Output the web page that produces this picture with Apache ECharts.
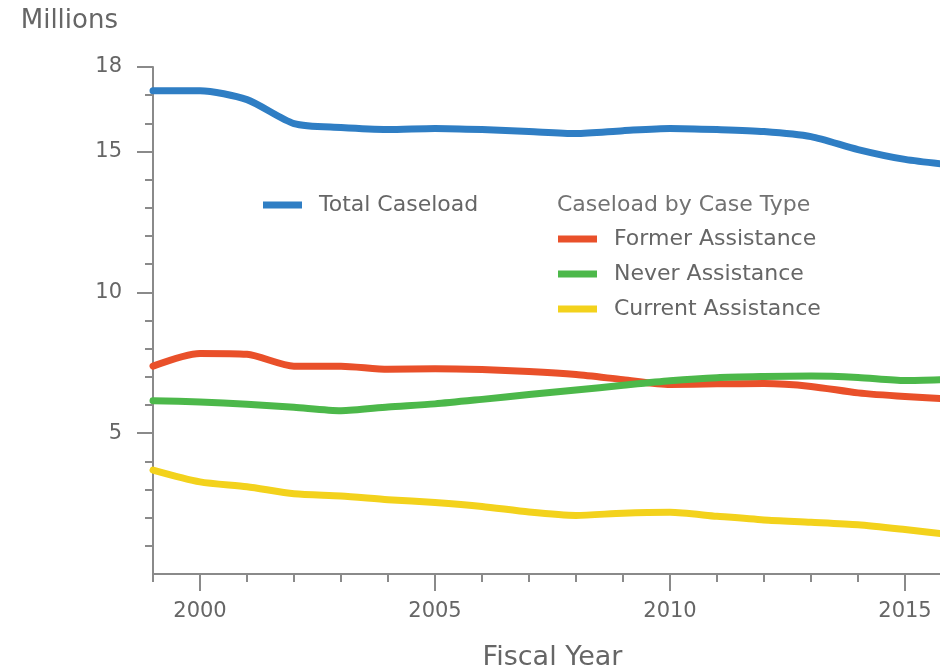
<!DOCTYPE html>
<html>
<head>
<meta charset="utf-8">
<script src="https://cdn.jsdelivr.net/npm/echarts@6/dist/echarts.min.js"></script>
<style>html,body{margin:0;padding:0;background:#fff}#chart{width:940px;height:672px}</style>
</head>
<body>
<div id="chart"></div>
<script>
const years = ['1999','2000','2001','2002','2003','2004','2005','2006','2007','2008','2009','2010','2011','2012','2013','2014','2015','2016'];
const totalCaseload      = [17.16,17.16,16.84,15.99,15.85,15.78,15.82,15.78,15.71,15.64,15.74,15.82,15.78,15.71,15.53,15.07,14.72,14.52];
const formerAssistance   = [7.38,7.83,7.80,7.38,7.38,7.27,7.29,7.26,7.19,7.08,6.90,6.73,6.75,6.76,6.66,6.43,6.30,6.21];
const neverAssistance    = [6.15,6.11,6.03,5.92,5.80,5.93,6.04,6.20,6.37,6.53,6.70,6.86,6.97,7.01,7.03,6.98,6.87,6.91];
const currentAssistance  = [3.69,3.27,3.10,2.85,2.77,2.64,2.54,2.40,2.20,2.08,2.16,2.19,2.05,1.92,1.84,1.75,1.58,1.39];
const yLabelValues = [5,10,15,18];
const xLabelYears = ['2000','2005','2010','2015'];
const yCats = Array.from({length:19},(_, i)=>String(i));

const FONT = 'DejaVu Sans';
const GREY = '#666666';
const AXIS = '#8a8a8a';

const chart = echarts.init(document.getElementById('chart'));
const lineS = (name, data, color) => ({
  name, type:'line', data, smooth:0.25, symbol:'none',
  xAxisIndex:0, yAxisIndex:0,
  lineStyle:{color, width:7, cap:'round', join:'round'}, itemStyle:{color}
});
chart.setOption({
  animation:false,
  textStyle:{fontFamily:FONT},
  grid:{left:153, top:67, width:799, height:507, containLabel:false, outerBoundsMode:'none'},
  title:{text:'Caseload by Case Type', left:552, top:189,
    textStyle:{fontFamily:FONT, fontSize:22, fontWeight:'normal', color:'#727272'}},
  legend:[
    {data:['Total Caseload'], left:258, top:189, icon:'rect', itemWidth:39, itemHeight:7,
     textStyle:{fontFamily:FONT, fontSize:22, color:GREY, padding:[0,0,0,12]}},
    {data:['Former Assistance','Never Assistance','Current Assistance'], orient:'vertical',
     left:553, top:223, icon:'rect', itemWidth:39, itemHeight:7, itemGap:13,
     textStyle:{fontFamily:FONT, fontSize:22, color:GREY, padding:[0,0,0,12]}}
  ],
  xAxis:[
    {type:'category', data:years, boundaryGap:false,
     name:'Fiscal Year', nameLocation:'middle', nameGap:70,
     nameTextStyle:{fontFamily:FONT, fontSize:27, color:GREY},
     axisLine:{lineStyle:{color:AXIS, width:2}},
     axisTick:{show:true, interval:0, length:8, lineStyle:{color:AXIS, width:2}},
     axisLabel:{interval:(i,v)=>xLabelYears.includes(v), margin:27, fontSize:21, color:GREY, fontFamily:FONT},
     splitLine:{show:false}},
    {type:'category', data:years, boundaryGap:false, position:'bottom',
     axisLine:{show:false},
     axisTick:{show:true, interval:(i,v)=>xLabelYears.includes(v), length:17, lineStyle:{color:AXIS, width:2}},
     axisLabel:{show:false}, splitLine:{show:false}}
  ],
  yAxis:[
    {type:'value', min:0, max:18, interval:1,
     name:'Millions', nameLocation:'end', nameGap:33,
     nameTextStyle:{fontFamily:FONT, fontSize:26, color:GREY, align:'right', padding:[0,35,0,0]},
     axisLine:{show:true, lineStyle:{color:AXIS, width:2}},
     axisTick:{show:false},
     axisLabel:{formatter:v=>yLabelValues.includes(v)?String(v):'', margin:31, fontSize:21, color:GREY, fontFamily:FONT},
     splitLine:{show:false}},
    {type:'category', data:yCats, boundaryGap:false, position:'left',
     axisLine:{show:false}, axisLabel:{show:false},
     axisTick:{show:true, interval:(i)=>i>0 && !yLabelValues.includes(i), length:8, lineStyle:{color:AXIS, width:2}}},
    {type:'category', data:yCats, boundaryGap:false, position:'left',
     axisLine:{show:false}, axisLabel:{show:false},
     axisTick:{show:true, interval:(i)=>yLabelValues.includes(i), length:16, lineStyle:{color:AXIS, width:2}}}
  ],
  series:[
    lineS('Total Caseload', totalCaseload, '#2f7ec4'),
    lineS('Former Assistance', formerAssistance, '#e9502a'),
    lineS('Never Assistance', neverAssistance, '#4cb84a'),
    lineS('Current Assistance', currentAssistance, '#f3d21c')
  ]
});
</script>
</body>
</html>
